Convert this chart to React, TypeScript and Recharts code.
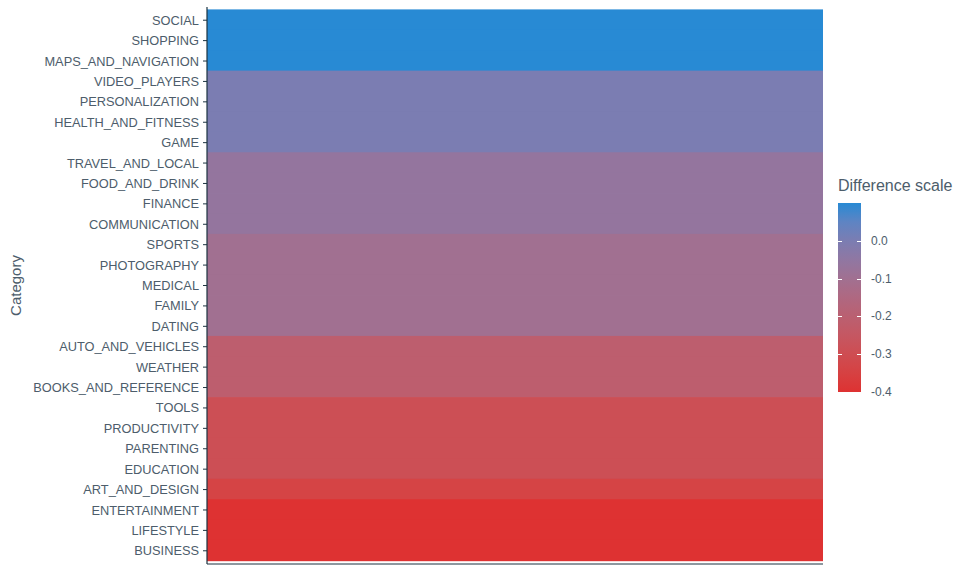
import { BarChart, Bar, XAxis, YAxis, Cell } from "recharts";

const categories = [
  "SOCIAL", "SHOPPING", "MAPS_AND_NAVIGATION", "VIDEO_PLAYERS", "PERSONALIZATION",
  "HEALTH_AND_FITNESS", "GAME", "TRAVEL_AND_LOCAL", "FOOD_AND_DRINK", "FINANCE",
  "COMMUNICATION", "SPORTS", "PHOTOGRAPHY", "MEDICAL", "FAMILY", "DATING",
  "AUTO_AND_VEHICLES", "WEATHER", "BOOKS_AND_REFERENCE", "TOOLS", "PRODUCTIVITY",
  "PARENTING", "EDUCATION", "ART_AND_DESIGN", "ENTERTAINMENT", "LIFESTYLE", "BUSINESS",
];

const differences = [
  0.1, 0.1, 0.1, 0.0, 0.0, 0.0, 0.0, -0.06, -0.06, -0.06, -0.06,
  -0.1, -0.1, -0.1, -0.1, -0.1, -0.21, -0.21, -0.21, -0.29, -0.29,
  -0.29, -0.29, -0.34, -0.4, -0.4, -0.4,
];

const legendTicks = [0.0, -0.1, -0.2, -0.3, -0.4];

const LOW = "#DE3232";
const HIGH = "#288AD4";
const MIN = -0.4;
const MAX = 0.1;
const TEXT = "#4D5D6B";
const AXIS = "#1C3340";
const FONT = "Liberation Sans, Arial, sans-serif";

// lab interpolation like ggplot's gradient
const toLin = (c: number) => {
  c /= 255;
  return c <= 0.04045 ? c / 12.92 : Math.pow((c + 0.055) / 1.055, 2.4);
};
const fromLin = (c: number) => {
  const v = c <= 0.0031308 ? 12.92 * c : 1.055 * Math.pow(c, 1 / 2.4) - 0.055;
  return Math.max(0, Math.min(255, Math.round(v * 255)));
};
const hexToLab = (hex: string) => {
  const r = toLin(parseInt(hex.slice(1, 3), 16));
  const g = toLin(parseInt(hex.slice(3, 5), 16));
  const b = toLin(parseInt(hex.slice(5, 7), 16));
  const x = (0.4124 * r + 0.3576 * g + 0.1805 * b) / 0.95047;
  const y = 0.2126 * r + 0.7152 * g + 0.0722 * b;
  const z = (0.0193 * r + 0.1192 * g + 0.9505 * b) / 1.08883;
  const f = (t: number) => (t > 0.008856 ? Math.cbrt(t) : 7.787 * t + 16 / 116);
  return [116 * f(y) - 16, 500 * (f(x) - f(y)), 200 * (f(y) - f(z))];
};
const labToHex = ([L, a, bb]: number[]) => {
  const fy = (L + 16) / 116;
  const fx = fy + a / 500;
  const fz = fy - bb / 200;
  const inv = (t: number) => (t ** 3 > 0.008856 ? t ** 3 : (t - 16 / 116) / 7.787);
  const x = inv(fx) * 0.95047;
  const y = inv(fy);
  const z = inv(fz) * 1.08883;
  const r = 3.2406 * x - 1.5372 * y - 0.4986 * z;
  const g = -0.9689 * x + 1.8758 * y + 0.0415 * z;
  const b = 0.0557 * x - 0.204 * y + 1.057 * z;
  return "#" + [r, g, b].map((c) => fromLin(c).toString(16).padStart(2, "0")).join("");
};
const lowLab = hexToLab(LOW);
const highLab = hexToLab(HIGH);
const colorFor = (v: number) => {
  const t = Math.max(0, Math.min(1, (v - MIN) / (MAX - MIN)));
  return labToHex(lowLab.map((l, i) => l + (highLab[i] - l) * t));
};

const data = categories.map((name, i) => ({ name, tile: 1, diff: differences[i] }));

// tile shape: stretch a bit vertically so neighbouring rows meet without seams
const Tile = (props: any) => {
  const { x, y, width, height, fill } = props;
  return <rect x={x} y={y - 0.6} width={width} height={height + 1.2} fill={fill} />;
};

const GradientLegend = () => {
  const h = 189;
  const stops = Array.from({ length: 11 }, (_, i) => colorFor(MAX - (i / 10) * (MAX - MIN)));
  const yOf = (v: number) => ((MAX - v) / (MAX - MIN)) * h;
  return (
    <div style={{ position: "absolute", left: 838, top: 177, fontFamily: FONT, color: TEXT }}>
      <div style={{ fontSize: 16, marginBottom: 8, whiteSpace: "nowrap" }}>Difference scale</div>
      <div style={{ position: "relative", height: h }}>
        <div
          style={{
            position: "absolute", left: 0, top: 0, width: 23, height: h,
            background: `linear-gradient(to bottom, ${stops.join(",")})`,
          }}
        />
        {legendTicks.map((v) => (
          <div key={v}>
            <div style={{ position: "absolute", left: 0, top: yOf(v), width: 4, height: 1, background: "#fff" }} />
            <div style={{ position: "absolute", left: 19, top: yOf(v), width: 4, height: 1, background: "#fff" }} />
            <div style={{ position: "absolute", left: 33, top: yOf(v) - 7, fontSize: 12 }}>
              {v.toFixed(1)}
            </div>
          </div>
        ))}
      </div>
    </div>
  );
};

export default function App() {
  return (
    <div style={{ position: "absolute", left: 0, top: 0, width: 960, height: 576, background: "#fff" }}>
      <BarChart
        width={960}
        height={576}
        data={data}
        layout="vertical"
        margin={{ top: 7, right: 137, bottom: 11, left: 0 }}
        barCategoryGap={0}
      >
        <XAxis type="number" domain={[0, 1]} height={1} tick={false} tickLine={false} axisLine={{ stroke: AXIS, strokeWidth: 1.2 }} />
        <YAxis
          type="category"
          dataKey="name"
          width={207}
          interval={0}
          padding={{ top: 3, bottom: 3 }}
          tickSize={4}
          tickMargin={4}
          tick={{ fill: TEXT, fontSize: 12.8, fontFamily: FONT }}
          tickLine={{ stroke: AXIS }}
          axisLine={{ stroke: AXIS, strokeWidth: 1.2 }}
          label={{
            value: "Category",
            angle: -90,
            position: "insideLeft",
            offset: 16,
            style: { fill: TEXT, fontSize: 15, fontFamily: FONT, textAnchor: "middle" },
          }}
        />
        <Bar dataKey="tile" isAnimationActive={false} shape={<Tile />}>
          {data.map((d) => (
            <Cell key={d.name} fill={colorFor(d.diff)} />
          ))}
        </Bar>
      </BarChart>
      <GradientLegend />
    </div>
  );
}
